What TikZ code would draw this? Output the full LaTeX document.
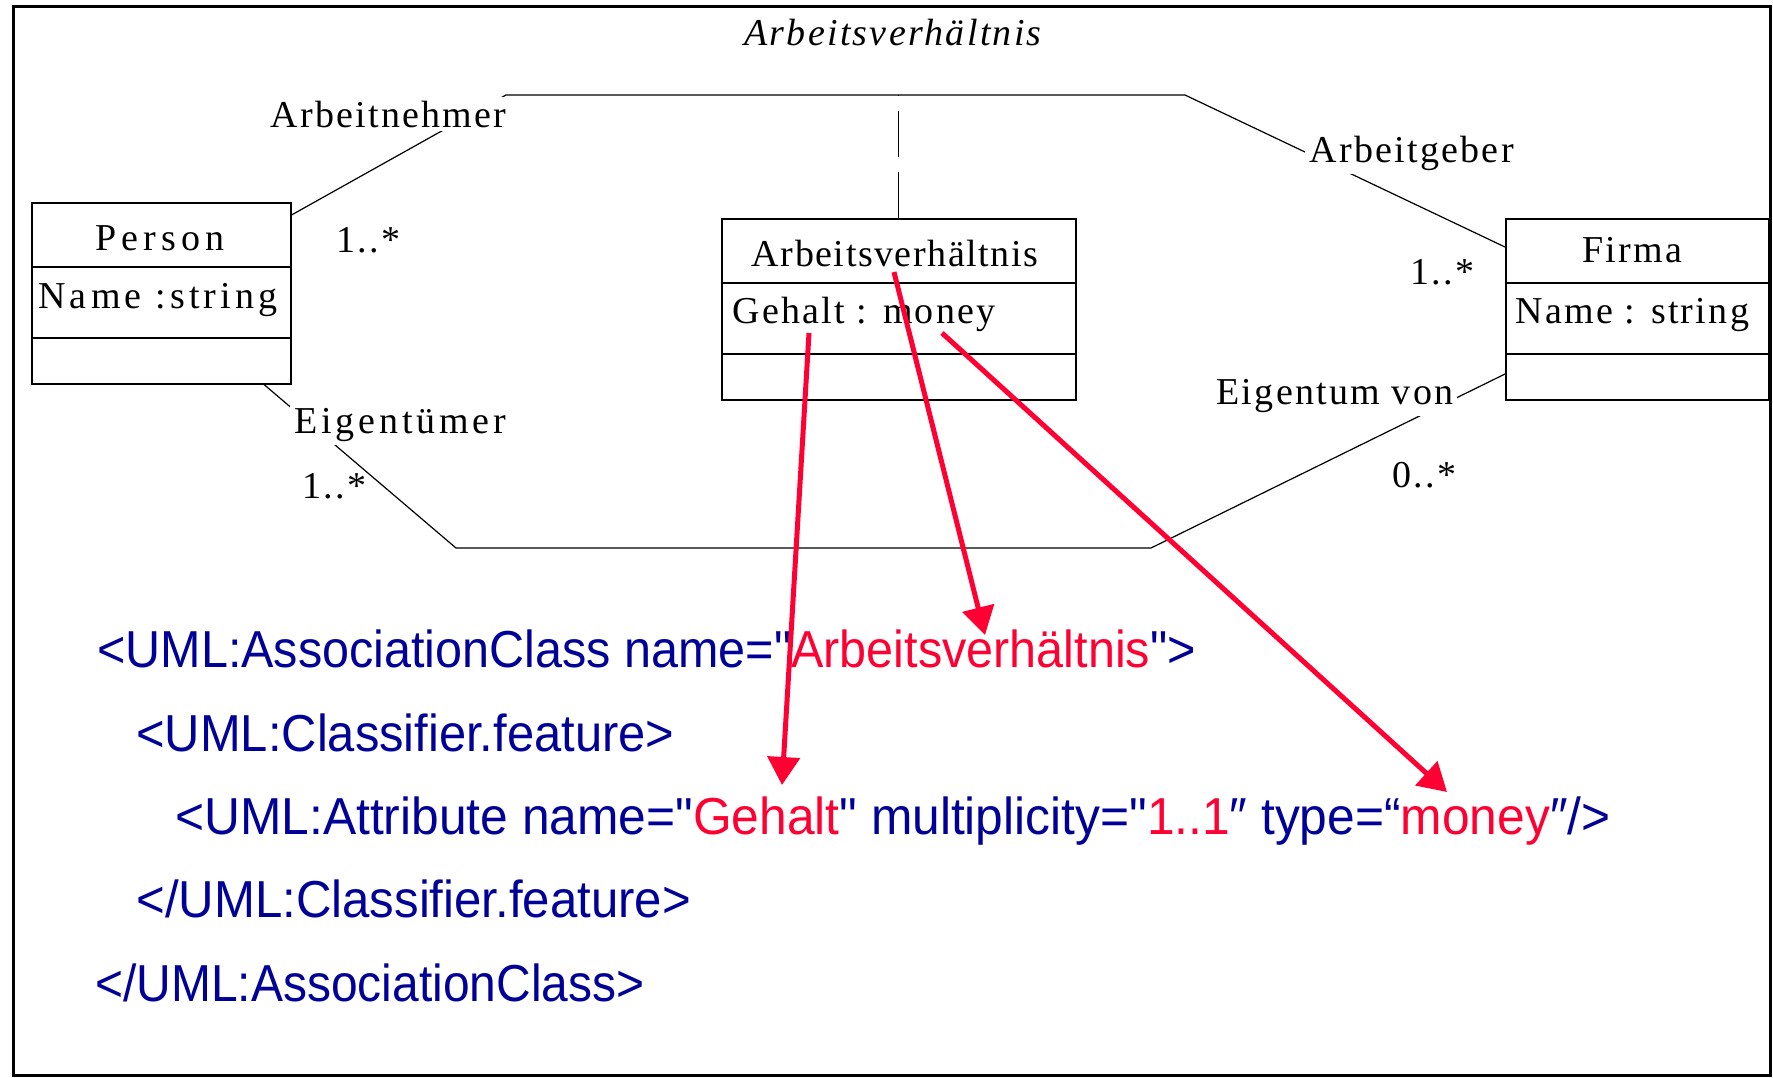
\documentclass[tikz,border=0pt]{standalone}
\usepackage{fontspec}
\setmainfont{Liberation Serif}
\usetikzlibrary{arrows.meta}
\definecolor{xmlblue}{RGB}{0,0,153}
\definecolor{xmlred}{RGB}{255,0,51}

% serif UML lettering with adjustable tracking, condensed sans for the XMI lines
\newcommand{\umlsp}[1]{\fontspec[LetterSpace=#1]{Liberation Serif}}
\newcommand{\xmlsp}[1]{\fontspec[FakeStretch=#1]{Liberation Sans}}

\tikzset{
  umltext/.style={inner sep=0pt, font=\umlsp{#1}\fontsize{19pt}{22pt}\selectfont},
  umltext/.default=6,
  role/.style={umltext=#1, fill=white, inner sep=2pt},
  role/.default=6,
  classbox/.style={draw, line width=0.75pt, inner sep=0pt, anchor=north west},
  divider/.style={line width=0.75pt},
  assoc/.style={line width=0.6pt},
  xml/.style={inner sep=0pt, anchor=base west, text=xmlblue,
    font=\xmlsp{#1}\fontsize{26pt}{30pt}\selectfont},
  xml/.default=0.93,
  hint/.style={draw=xmlred, line width=2.5pt,
    -{Triangle[length=14pt,width=16pt]}},
}
\newcommand{\hl}[1]{\textcolor{xmlred}{#1}}

\begin{document}
\begin{tikzpicture}[x=0.5pt,y=-0.5pt]
\useasboundingbox (0,0) rectangle (1773,1077);
\fill[white] (0,0) rectangle (1773,1077);

% outer frame
\draw[line width=1.5pt] (13,6) rectangle (1770,1075);

% title of the association
\node[umltext, anchor=base] (title) at (893,45) {\itshape Arbeitsverhältnis};

% classes
\node[classbox, minimum width=129.5pt, minimum height=90.5pt] (person) at (31,202) {};
\draw[divider] (person.west |- 0,267) -- (person.east |- 0,267);
\draw[divider] (person.west |- 0,338) -- (person.east |- 0,338);
\node[umltext=13, anchor=base] (personname) at (160,250) {Person};
\node[umltext=11, anchor=base west] (personattr) at (38,308) {Name :string};

\node[classbox, minimum width=177pt, minimum height=90.5pt] (ac) at (721,218) {};
\draw[divider] (ac.west |- 0,283) -- (ac.east |- 0,283);
\draw[divider] (ac.west |- 0,354) -- (ac.east |- 0,354);
\node[umltext=4, anchor=base] (acname) at (895,266) {Arbeitsverhältnis};
\node[umltext, anchor=base west] (acattr) at (732,323) {Gehalt : money};

\node[classbox, minimum width=131.5pt, minimum height=90.5pt] (firma) at (1505,218) {};
\draw[divider] (firma.west |- 0,283) -- (firma.east |- 0,283);
\draw[divider] (firma.west |- 0,354) -- (firma.east |- 0,354);
\node[umltext, anchor=base] (firmaname) at (1632,262) {Firma};
\node[umltext, anchor=base west] (firmaattr) at (1515,323) {Name : string};

% association Arbeitnehmer / Arbeitgeber
\coordinate (an1) at (506,95);
\coordinate (an2) at (1185,95);
\draw[assoc] (person.east |- 0,215) -- (an1) -- (an2) -- (firma.west |- 0,247);
\draw[assoc, dash pattern=on 23pt off 7.5pt] (ac.north) -- (ac.north |- an1);

% association Eigentuemer / Eigentum von
\coordinate (eg1) at (456,548);
\coordinate (eg2) at (1151,548);
\draw[assoc] (person.south -| 264,0) -- (eg1) -- (eg2) -- (firma.west |- 0,374);

% role names and multiplicities
\node[role, anchor=base west] (rarbeitnehmer) at (266,127) {Arbeitnehmer};
\node[role, anchor=base west] (rarbeitgeber) at (1305,162) {Arbeitgeber};
\node[role=10, anchor=base west] (reigentuemer) at (290,433) {Eigentümer};
\node[role, anchor=base west] (reigentum) at (1212,404) {Eigentum von};
\node[umltext, anchor=base west] (m1) at (336,252) {1..*};
\node[umltext, anchor=base west] (m2) at (1410,284) {1..*};
\node[umltext, anchor=base west] (m3) at (302,498) {1..*};
\node[umltext, anchor=base west] (m4) at (1392,487) {0..*};

% XMI serialisation
\node[xml=0.933] (x1) at (97,667) {<UML:AssociationClass name="\hl{Arbeitsverhältnis}">};
\node[xml=0.94] (x2) at (136,751) {<UML:Classifier.feature>};
\node[xml=0.956] (x3) at (175,834) {<UML:Attribute name="\hl{Gehalt}" multiplicity="\hl{1..1}″ type=“\hl{money}″/>};
\node[xml=0.945] (x4) at (136,917) {</UML:Classifier.feature>};
\node[xml=0.922] (x5) at (95,1001) {</UML:AssociationClass>};

% mapping arrows from the class to its serialisation
\coordinate (s1) at (809,333);
\coordinate (t1) at (782,785);
\coordinate (s2) at (894,272);
\coordinate (t2) at (985,635);
\coordinate (s3) at (942,333);
\coordinate (t3) at (1447,792);
\draw[hint] (s1) -- (t1);
\draw[hint] (s2) -- (t2);
\draw[hint] (s3) -- (t3);
\end{tikzpicture}
\end{document}
